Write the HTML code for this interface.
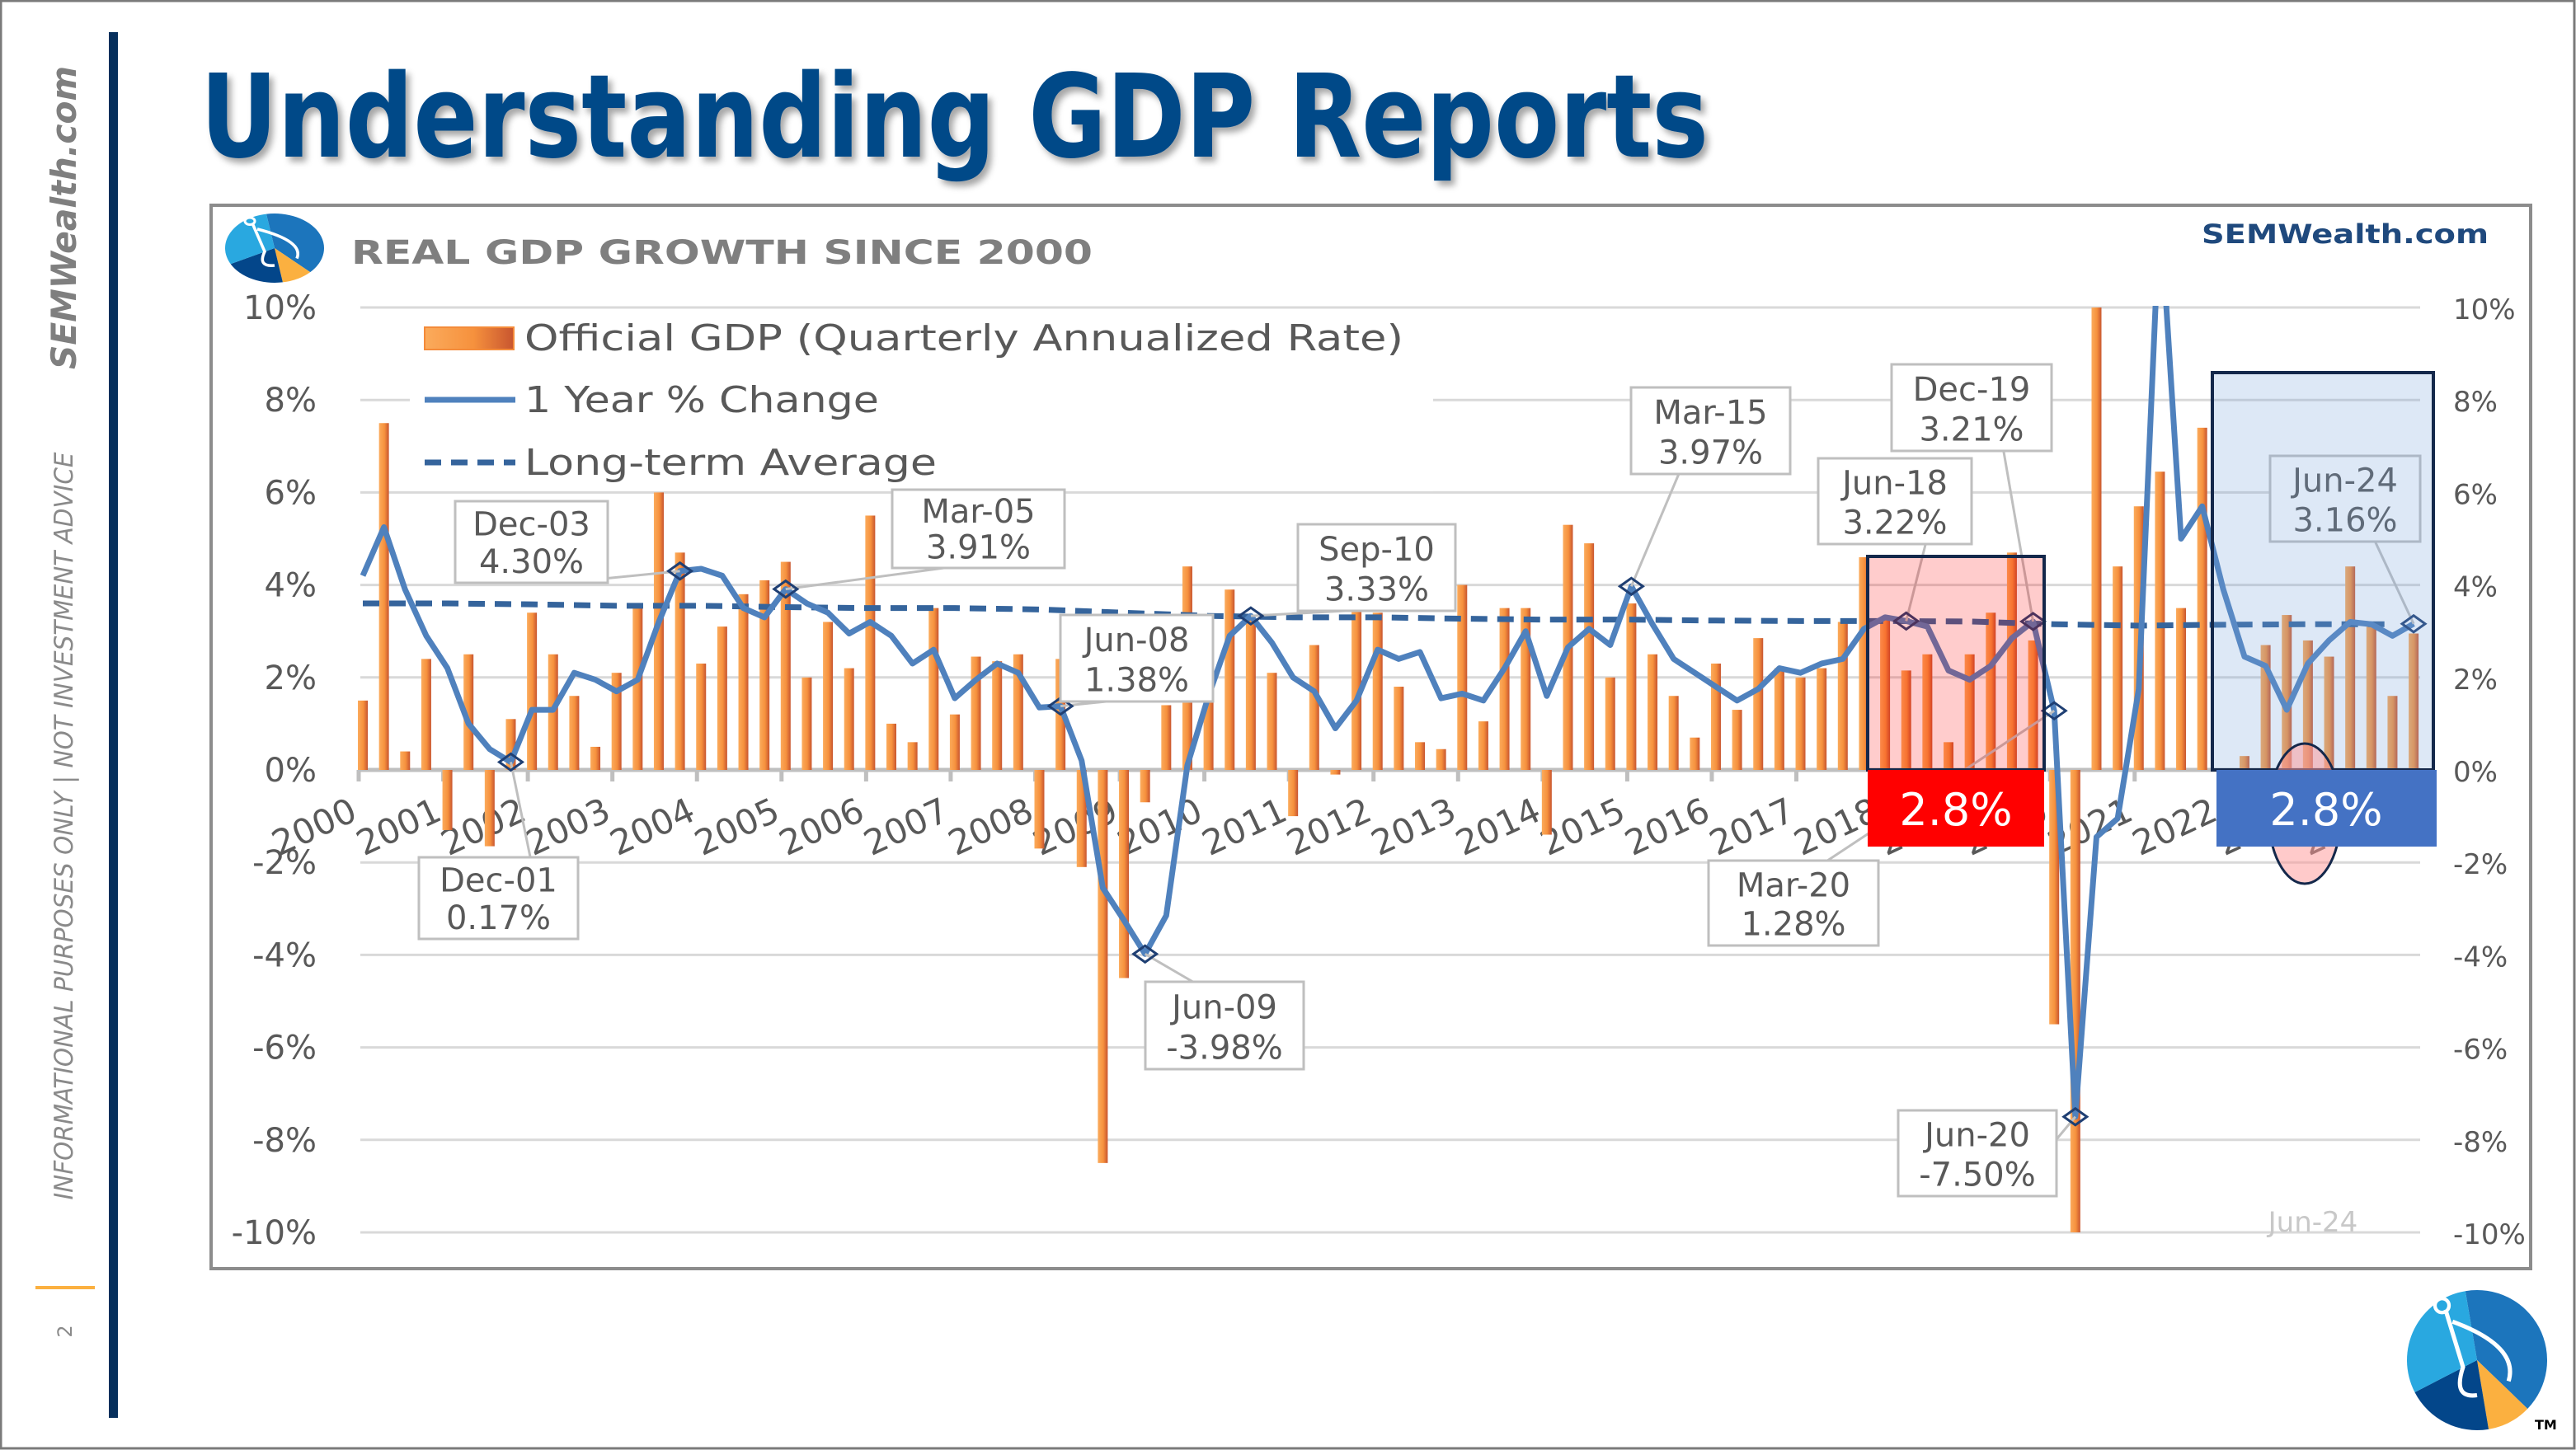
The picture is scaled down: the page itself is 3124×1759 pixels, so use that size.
<!DOCTYPE html>
<html><head><meta charset="utf-8"><style>
html,body{margin:0;padding:0;background:#fff;width:3124px;height:1759px;overflow:hidden}
svg{display:block}
text{font-family:"DejaVu Sans","Liberation Sans",sans-serif}
</style></head><body>
<svg id="s" width="3124" height="1759" viewBox="0 0 3124 1759" xmlns="http://www.w3.org/2000/svg">
<defs>
<filter id="sh" x="-5%" y="-5%" width="110%" height="130%"><feDropShadow dx="5" dy="6" stdDeviation="4" flood-color="#000" flood-opacity="0.35"/></filter>
<linearGradient id="bg" x1="0" x2="1" y1="0" y2="0"><stop offset="0" stop-color="#fbab5c"/><stop offset="0.55" stop-color="#f6913d"/><stop offset="1" stop-color="#c8552f"/></linearGradient>
<clipPath id="pc"><rect x="430" y="371" width="2520" height="1127"/></clipPath>
</defs>
<rect x="1" y="1" width="3121" height="1756" fill="#fff" stroke="#7a7a7a" stroke-width="3"/>
<rect x="132" y="39" width="11" height="1681" fill="#062f5c"/>
<text transform="translate(92,264) rotate(-90)" text-anchor="middle" font-family="DejaVu Sans" font-weight="bold" font-style="italic" font-size="42" fill="#7f7f7f" textLength="368" lengthAdjust="spacingAndGlyphs">SEMWealth.com</text>
<text transform="translate(88,1002) rotate(-90)" text-anchor="middle" font-family="Liberation Sans" font-style="italic" font-size="31" fill="#8a8a8a" textLength="907" lengthAdjust="spacingAndGlyphs">INFORMATIONAL PURPOSES ONLY | NOT INVESTMENT ADVICE</text>
<rect x="43" y="1560" width="72" height="4" fill="#fbb040"/>
<text transform="translate(87,1615) rotate(-90)" text-anchor="middle" font-family="Liberation Sans" font-size="24" fill="#8a8a8a">2</text>
<text x="243" y="190" font-family="Liberation Sans" font-weight="bold" font-size="140" fill="#044a88" textLength="1829" lengthAdjust="spacingAndGlyphs" filter="url(#sh)">Understanding GDP Reports</text>
<rect x="256" y="249" width="2813" height="1290" fill="#fff" stroke="#8c8c8c" stroke-width="4"/>
<g id="logo1"></g>
<text x="426" y="320" font-family="Liberation Sans" font-weight="bold" font-size="40" fill="#7f7f7f" textLength="899" lengthAdjust="spacingAndGlyphs">REAL GDP GROWTH SINCE 2000</text>
<text x="2670" y="295" font-family="DejaVu Sans" font-weight="bold" font-size="32" fill="#1f497d" textLength="348" lengthAdjust="spacingAndGlyphs">SEMWealth.com</text>
<g id="grid"></g>
<rect x="497" y="378" width="1241" height="218" fill="#fff"/>
<g id="axes"></g>
<g id="bars" clip-path="url(#pc)"></g>
<g id="lines" clip-path="url(#pc)"></g>
<g id="legend">
<rect x="515" y="397" width="108" height="27" fill="url(#bg)" stroke="#f48b3a" stroke-width="2"/>
<text x="636" y="425" font-size="44" fill="#595959" textLength="1066" lengthAdjust="spacingAndGlyphs">Official GDP (Quarterly Annualized Rate)</text>
<line x1="515" y1="485" x2="625" y2="485" stroke="#4f81bd" stroke-width="7"/>
<text x="636" y="500" font-size="44" fill="#595959" textLength="430" lengthAdjust="spacingAndGlyphs">1 Year % Change</text>
<line x1="515" y1="561" x2="625" y2="561" stroke="#35649c" stroke-width="7" stroke-dasharray="20 12"/>
<text x="636" y="576" font-size="44" fill="#595959" textLength="500" lengthAdjust="spacingAndGlyphs">Long-term Average</text>
</g>
<g id="callouts"></g>
<g id="hl"></g>
<text x="2805" y="1494" text-anchor="middle" font-size="34" fill="#c8c8c8">Jun-24</text>
<g id="logo2"></g>
<text x="3074" y="1734" font-family="Liberation Sans" font-weight="bold" font-size="16" fill="#000">TM</text>
</svg>
<script>
const gdp = [1.5,7.5,0.4,2.4, -1.3,2.5,-1.65,1.1, 3.4,2.5,1.6,0.5, 2.1,3.6,6.0,4.7, 2.3,3.1,3.8,4.1, 4.5,2.0,3.2,2.2, 5.5,1.0,0.6,3.5, 1.2,2.45,2.35,2.5, -1.7,2.4,-2.1,-8.5, -4.5,-0.7,1.4,4.4, 2.0,3.9,3.3,2.1, -1.0,2.7,-0.1,4.6, 3.4,1.8,0.6,0.45, 4.0,1.05,3.5,3.5, -1.4,5.3,4.9,2.0, 3.6,2.5,1.6,0.7, 2.3,1.3,2.85,2.2, 2.0,2.2,3.2,4.6, 3.25,2.15,2.5,0.6, 2.5,3.4,4.7,2.8, -5.5,-28.0,34.8,4.4, 5.7,6.45,3.5,7.4, -1.0,0.3,2.7,3.35, 2.8,2.45,4.4,3.15, 1.6,2.95];
const yoy = [4.2,5.25,3.9,2.9, 2.2,1.0,0.45,0.17, 1.3,1.3,2.1,1.95, 1.7,1.95,3.2,4.3, 4.35,4.2,3.5,3.3, 3.91,3.6,3.4,2.95, 3.2,2.9,2.3,2.6, 1.55,1.95,2.3,2.1, 1.35,1.38,0.2,-2.55, -3.25,-3.98,-3.15,0.1, 1.6,2.9,3.33,2.75, 2.0,1.7,0.9,1.5, 2.6,2.4,2.55,1.55, 1.65,1.5,2.2,3.0, 1.6,2.65,3.05,2.7, 3.97,3.15,2.4,2.1, 1.8,1.5,1.75,2.2, 2.1,2.3,2.4,3.05, 3.3,3.22,3.1,2.15, 1.95,2.25,2.85,3.21, 1.28,-7.5,-1.45,-1.05, 1.75,12.2,5.0,5.7, 3.9,2.45,2.25,1.3, 2.3,2.8,3.2,3.15, 2.9,3.16];
const avgYearly = [3.6,3.6,3.58,3.55,3.55,3.52,3.5,3.5,3.47,3.4,3.33,3.3,3.3,3.27,3.25,3.25,3.23,3.22,3.22,3.21,3.15,3.12,3.14,3.15,3.15];
const years = ["2000","2001","2002","2003","2004","2005","2006","2007","2008","2009","2010","2011","2012","2013","2014","2015","2016","2017","2018","2019","2020","2021","2022","2023","2024"];
const yTicks = [10,8,6,4,2,0,-2,-4,-6,-8,-10];
const calloutIdx = [7,15,20,33,37,42,60,73,79,80,81,97];
const calloutDate = ["Dec-01","Dec-03","Mar-05","Jun-08","Jun-09","Sep-10","Mar-15","Jun-18","Dec-19","Mar-20","Jun-20","Jun-24"];
const calloutVal = ["0.17%","4.30%","3.91%","1.38%","-3.98%","3.33%","3.97%","3.22%","3.21%","1.28%","-7.50%","3.16%"];
const calloutBox = [[508,1040,193,99],[552,608,185,99],[1082,594,209,95],[1286,746,185,105],[1389,1191,192,106],[1574,636,191,105],[1978,470,193,105],[2205,556,186,104],[2294,442,194,105],[2072,1044,206,103],[2302,1347,192,104],[2753,553,182,104]];
const NS='http://www.w3.org/2000/svg';
const YMIN=-10, YMAX=10;
const X=i=>440+25.64*i, Y=v=>934-56.1*v;
const clampV=v=>Math.max(YMIN,Math.min(YMAX,v));
function mk(tag,attrs,parent){const e=document.createElementNS(NS,tag);for(const k in attrs)e.setAttribute(k,attrs[k]);parent.appendChild(e);return e;}
const grid=document.getElementById('grid'),axes=document.getElementById('axes');
yTicks.forEach(v=>{
  const g=mk('line',{x1:437,x2:2935,y1:Y(v),y2:Y(v),stroke:'#d9d9d9','stroke-width':v===0?0:3},grid);
  
  
  const t=mk('text',{x:384,y:Y(v)+14,'text-anchor':'end','font-size':40,fill:'#595959'},axes);
  t.textContent=v+'%';
  
  
  const t2=mk('text',{x:2975,y:Y(v)+14,'font-size':34,fill:'#595959'},axes);
  t2.textContent=v+'%';
  
  
});
years.forEach((yr,k)=>{
  const tx=X(4*k)-5;
  const tk=mk('line',{x1:tx,x2:tx,y1:934,y2:948,stroke:'#bfbfbf','stroke-width':5},axes);
  
  
  const t=mk('text',{'text-anchor':'middle','font-size':42,fill:'#595959',transform:`translate(${tx-48},${1016}) rotate(-25)`},axes);
  t.textContent=yr;
  
  
});
const bars=document.getElementById('bars');
gdp.forEach((v,i)=>{
  const y0=Y(0),y1=Y(clampV(v));
  const r=mk('rect',{x:X(i)-6,y:Math.min(y0,y1),width:12,height:Math.abs(y1-y0),fill:'url(#bg)'},bars);
  
  
});
mk('line',{x1:437,x2:2935,y1:934,y2:934,stroke:'#bfbfbf','stroke-width':5},axes);
const lines=document.getElementById('lines');
const ap=avgYearly.map((v,k)=>[X(Math.min(4*k,gdp.length-1)),Y(v)]);
const al=mk('polyline',{points:ap.map(p=>p.join(',')).join(' '),fill:'none',stroke:'#35649c','stroke-width':7,'stroke-dasharray':'20 12'},lines);


const yl=mk('polyline',{points:yoy.map((v,i)=>X(i)+','+Y(v)).join(' '),fill:'none',stroke:'#4f81bd','stroke-width':7,'stroke-linejoin':'round'},lines);


const co=document.getElementById('callouts');
calloutIdx.forEach((idx,j)=>{
  const [bx,by,bw,bh]=calloutBox[j];const px=X(idx),py=Y(yoy[idx]);
  const ly=py<by?by:by+bh;
  const ln=mk('line',{x1:bx+bw/2>px?bx+bw*0.3:bx+bw*0.7,y1:ly,x2:px,y2:py,stroke:'#bfbfbf','stroke-width':3},co);
  
  
  const d=mk('path',{d:`M${px-14},${py} L${px},${py-10} L${px+14},${py} L${px},${py+10} Z`,fill:'none',stroke:'#1f3f73','stroke-width':3},co);
  
  
  const b=mk('rect',{x:bx,y:by,width:bw,height:bh,fill:'#fff',stroke:'#bfbfbf','stroke-width':3},co);
  
  
  const t1=mk('text',{x:bx+bw/2,y:by+bh*0.42,'text-anchor':'middle','font-size':40,fill:'#595959'},co);
  t1.textContent=calloutDate[j];
  
  
  const t2=mk('text',{x:bx+bw/2,y:by+bh*0.88,'text-anchor':'middle','font-size':40,fill:'#595959'},co);
  t2.textContent=calloutVal[j];
  
  
});
const hl=document.getElementById('hl');
function add(tag,attrs,name){const e=mk(tag,attrs,hl);return e;}
add('rect',{x:2265,y:675,width:214,height:259,fill:'rgba(255,0,0,0.2)',stroke:'#14284b','stroke-width':4},'pre-covid-highlight');
add('rect',{x:2265,y:934,width:214,height:93,fill:'#ff0000'},'pre-covid-average-badge');
const rt=add('text',{x:2372,y:1001,'text-anchor':'middle','font-family':'Liberation Sans','font-size':54,fill:'#fff'},'pre-covid-average-value');rt.textContent='2.8%';
add('rect',{x:2683,y:452,width:268,height:482,fill:'rgba(120,165,220,0.25)',stroke:'#14284b','stroke-width':4},'recent-highlight');
add('ellipse',{cx:2795,cy:987,rx:44,ry:85,fill:'rgba(255,150,150,0.5)',stroke:'#14284b','stroke-width':3},'dip-ellipse');
add('rect',{x:2688,y:934,width:267,height:93,fill:'#4472c4'},'recent-average-badge');
const bt=add('text',{x:2821,y:1001,'text-anchor':'middle','font-family':'Liberation Sans','font-size':54,fill:'#fff'},'recent-average-value');bt.textContent='2.8%';
function logo(g,cx,cy,rx,ry){
  const seg=[[-99.6,43.9,'#1c75bc'],[43.9,80.5,'#fbb040'],[80.5,152.7,'#03468a'],[152.7,260.4,'#29a8e0']];
  seg.forEach(s=>{const a=s[0]*Math.PI/180,b=s[1]*Math.PI/180;
    const p=mk('path',{d:`M${cx},${cy} L${cx+rx*Math.cos(a)},${cy+ry*Math.sin(a)} A${rx},${ry} 0 ${(s[1]-s[0])>180?1:0} 1 ${cx+rx*Math.cos(b)},${cy+ry*Math.sin(b)} Z`,fill:s[2]},g);
    
    });
  const c=mk('path',{d:`M${cx-rx*0.45},${cy-ry*0.72} L${cx-rx*0.2},${cy+ry*0.1} Q${cx-rx*0.35},${cy+ry*0.55} ${cx},${cy+ry*0.5} M${cx-rx*0.35},${cy-ry*0.55} Q${cx+rx*0.6},${cy-ry*0.2} ${cx+rx*0.45},${cy+ry*0.3}`,fill:'none',stroke:'#fff','stroke-width':rx*0.06},g);
  
  
  const o=mk('ellipse',{cx:cx-rx*0.5,cy:cy-ry*0.78,rx:rx*0.1,ry:ry*0.1,fill:'none',stroke:'#fff','stroke-width':rx*0.05},g);
  
  
}
logo(document.getElementById('logo1'),333,301,60,42);
logo(document.getElementById('logo2'),3004,1650,85,85);
</script>
</body></html>
